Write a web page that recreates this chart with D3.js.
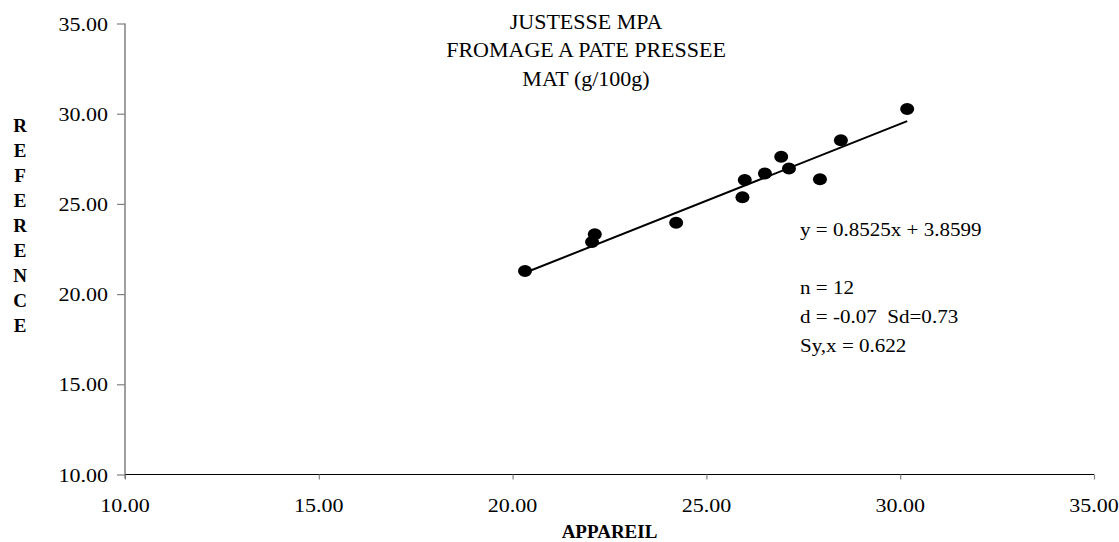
<!DOCTYPE html>
<html>
<head>
<meta charset="utf-8">
<script src="https://cdn.jsdelivr.net/npm/d3@7/dist/d3.min.js"></script>
<style>
  html, body { margin: 0; padding: 0; background: #fff; }
  svg { display: block; }
  text { font-family: "Liberation Serif", "Times New Roman", serif; fill: #000; white-space: pre; }
</style>
</head>
<body>
<svg id="chart" width="1119" height="542"></svg>
<script>
// ---- data ----
const appareil  = [20.32, 22.12, 22.05, 24.22, 25.99, 25.93, 26.51, 26.93, 27.13, 27.93, 28.47, 30.18];
const reference = [21.28, 23.32, 22.89, 23.95, 26.32, 25.37, 26.69, 27.61, 26.96, 26.37, 28.53, 30.26];
const xTicks = [10, 15, 20, 25, 30, 35];
const yTicks = [10, 15, 20, 25, 30, 35];
const titleLines = ["JUSTESSE MPA", "FROMAGE A PATE PRESSEE", "MAT (g/100g)"];
const slope = 0.8525, intercept = 3.8599;
const statLines = ["y = 0.8525x + 3.8599", "n = 12", "d = -0.07  Sd=0.73", "Sy,x = 0.622"];
const yAxisTitle = "REFERENCE";
const xAxisTitle = "APPAREIL";

// ---- layout ----
const mLeft = 125, mRight = 1094, mTop = 23.5, mBottom = 474.5;
const svg = d3.select("#chart");
const x = d3.scaleLinear().domain([10, 35]).range([mLeft, mRight]);
const y = d3.scaleLinear().domain([10, 35]).range([mBottom, mTop]);
const fmt = d3.format(".2f");

function stretchedText(g, tx, ty, str, opts = {}) {
  return g.append("text")
    .attr("transform", `translate(${tx},${ty}) scale(${opts.sx || 1},1)`)
    .attr("text-anchor", opts.anchor || "middle")
    .attr("dominant-baseline", "central")
    .style("font-size", (opts.size || 16) + "px")
    .style("font-weight", opts.weight || "normal")
    .text(str);
}

// y axis
const yAxisG = svg.append("g").attr("transform", `translate(${mLeft},0)`)
  .call(d3.axisLeft(y).tickValues(yTicks).tickSize(8).tickFormat(""));
yAxisG.select(".domain").attr("stroke", "#808080").attr("stroke-width", 1.5).attr("d", `M0,${mTop}V${mBottom + 4}`);
yAxisG.selectAll(".tick line").attr("stroke", "#808080").attr("stroke-width", 1.2);

// x axis
const xAxisG = svg.append("g").attr("transform", `translate(0,${mBottom})`)
  .call(d3.axisBottom(x).tickValues(xTicks).tickSize(5).tickFormat(""));
xAxisG.select(".domain").attr("stroke", "#000").attr("stroke-width", 1.2).attr("d", `M${mLeft},0H${mRight}`);
xAxisG.selectAll(".tick line").attr("stroke", "#808080").attr("stroke-width", 1.2);

// tick labels
const labG = svg.append("g");
yTicks.forEach(v => stretchedText(labG, mLeft - 17, y(v), fmt(v), {anchor: "end", size: 19.5, sx: 1.13}));
xTicks.forEach(v => stretchedText(labG, x(v), mBottom + 30, fmt(v), {anchor: "middle", size: 19.5, sx: 1.13}));

// title
titleLines.forEach((t, i) => stretchedText(labG, 586, 22 + i * 28.5, t, {size: 20, sx: 1.1}));

// axis titles
stretchedText(labG, x(22.5), 531, xAxisTitle, {size: 19, weight: "bold", sx: 1.0});
yAxisTitle.split("").forEach((c, i) => stretchedText(labG, 20, 125 + i * 25, c, {size: 19, weight: "bold", sx: 1.0}));

// regression line
const xMin = d3.min(appareil), xMax = d3.max(appareil);
svg.append("line")
  .attr("x1", x(xMin)).attr("y1", y(slope * xMin + intercept))
  .attr("x2", x(xMax)).attr("y2", y(slope * xMax + intercept))
  .attr("stroke", "#000").attr("stroke-width", 2);

// points
svg.append("g").selectAll("ellipse")
  .data(appareil.map((v, i) => [v, reference[i]]))
  .join("ellipse")
  .attr("cx", d => x(d[0])).attr("cy", d => y(d[1]))
  .attr("rx", 7).attr("ry", 6).attr("fill", "#000");

// stats
const statY = [229, 287, 316, 345];
statLines.forEach((t, i) => stretchedText(labG, 800, statY[i], t, {anchor: "start", size: 19.5, sx: 1.08}));
</script>
</body>
</html>
